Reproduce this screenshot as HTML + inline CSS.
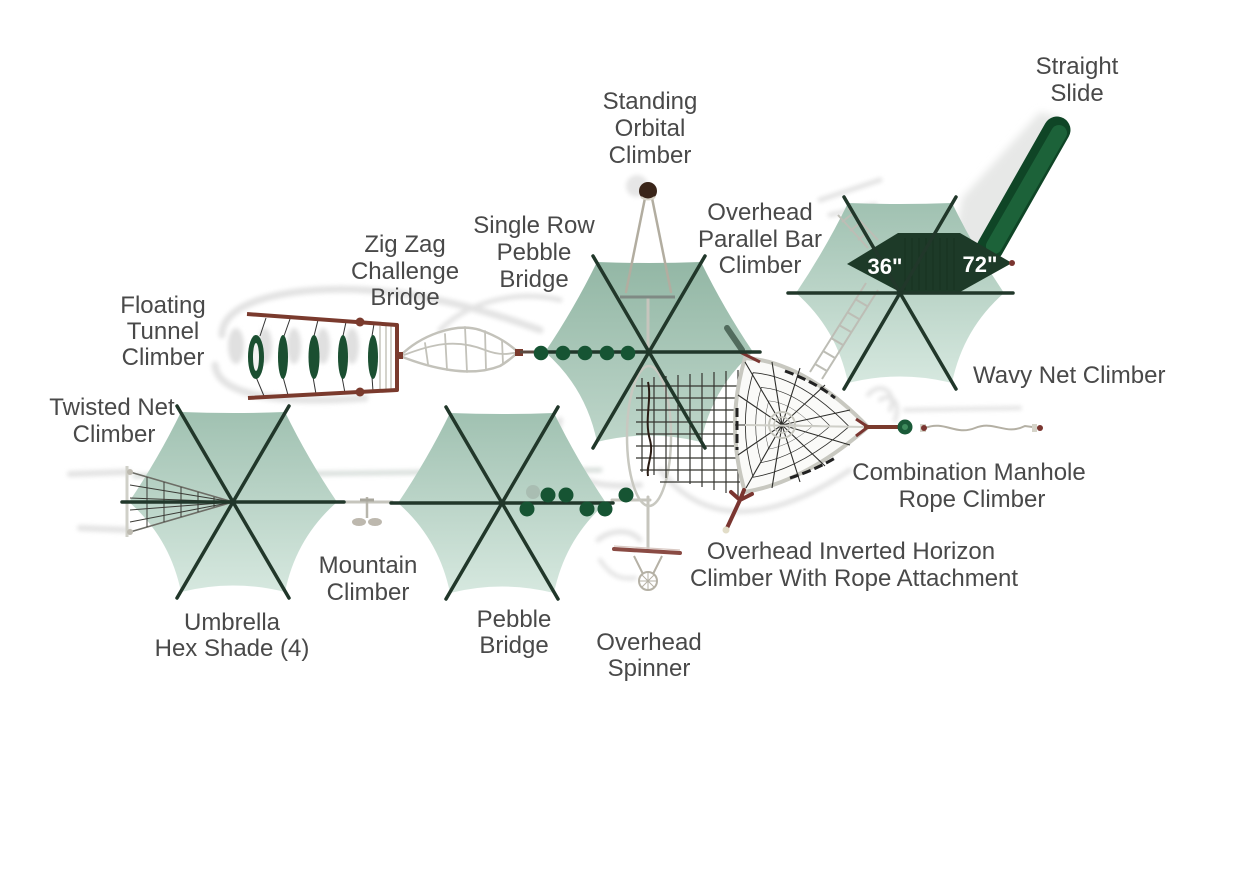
<!DOCTYPE html>
<html><head><meta charset="utf-8"><style>
html,body{margin:0;padding:0;background:#fff;}
svg{display:block;}
text{font-family:"Liberation Sans",Arial,sans-serif;}
</style></head><body>
<svg width="1235" height="872" viewBox="0 0 1235 872" xmlns="http://www.w3.org/2000/svg">
<defs>
<linearGradient id="cg" x1="0" y1="0" x2="0" y2="1">
<stop offset="0" stop-color="#a0c1b1"/><stop offset="1" stop-color="#d6e8df"/>
</linearGradient>
<linearGradient id="cg3" x1="0" y1="0" x2="0" y2="1">
<stop offset="0" stop-color="#93b7a5"/><stop offset="1" stop-color="#bed6ca"/>
</linearGradient>
<filter id="bl" x="-20%" y="-20%" width="140%" height="140%"><feGaussianBlur stdDeviation="2"/></filter>
<filter id="bl4" x="-20%" y="-20%" width="140%" height="140%"><feGaussianBlur stdDeviation="4"/></filter>
</defs>
<rect width="1235" height="872" fill="#fff"/>

<!-- soft shadows -->
<g filter="url(#bl)" fill="none" stroke="#dedede" stroke-linecap="round" opacity="0.85">
<path d="M222,335 C222,298 300,286 365,290 C425,294 480,308 540,330" stroke-width="7"/>
<path d="M215,365 C218,398 290,404 365,398" stroke-width="7"/>
<path d="M70,474 L128,472" stroke-width="6"/>
<path d="M80,528 L128,530" stroke-width="6"/>
<path d="M135,476 L600,470" stroke-width="5" stroke="#d2d9d5"/>
<path d="M560,420 C545,470 580,490 640,485" stroke-width="6"/>
<path d="M598,540 C610,530 630,528 640,540" stroke-width="5"/>
<path d="M600,560 C610,575 620,580 635,578" stroke-width="4"/>
<path d="M660,470 C700,520 760,530 850,470" stroke-width="5"/>
<path d="M868,395 C880,380 898,392 890,410 M880,400 C890,392 902,402 895,420 M905,410 L1020,408" stroke-width="4"/>
<path d="M440,330 C470,300 520,290 560,300" stroke-width="5"/>
<path d="M820,200 L880,180 M830,215 L875,205" stroke-width="5"/>
</g>
<polygon points="952,250 962,198 1040,112 1062,118 995,248" fill="#e7e8e7" filter="url(#bl4)"/>
<circle cx="637" cy="186" r="11" fill="#e6e6e6" filter="url(#bl)"/>

<!-- canopies -->
<g transform="translate(233,502)"><path d="M104,0 Q63,36 52,90 Q0,77 -52,90 Q-63,36 -104,0 Q-75,-43 -52,-90 Q0,-88 52,-90 Q75,-43 104,0 Z" fill="url(#cg)"/></g>
<g transform="translate(502,503)"><path d="M104,0 Q63,36 52,90 Q0,77 -52,90 Q-63,36 -104,0 Q-75,-43 -52,-90 Q0,-88 52,-90 Q75,-43 104,0 Z" fill="url(#cg)"/></g>
<g transform="translate(649,352)"><path d="M104,0 Q63,36 52,90 Q0,77 -52,90 Q-63,36 -104,0 Q-75,-43 -52,-90 Q0,-88 52,-90 Q75,-43 104,0 Z" fill="url(#cg3)"/></g>
<g transform="translate(900,293)"><path d="M104,0 Q63,36 52,90 Q0,77 -52,90 Q-63,36 -104,0 Q-75,-43 -52,-90 Q0,-88 52,-90 Q75,-43 104,0 Z" fill="url(#cg)"/></g>

<!-- gray bars between umbrellas -->
<g stroke="#c6c5bd" stroke-width="3" stroke-linecap="round" fill="none">
<line x1="345" y1="502" x2="392" y2="502"/>
<line x1="612" y1="500" x2="650" y2="500"/>
<line x1="648" y1="297" x2="648" y2="352"/>
<line x1="648" y1="497" x2="648" y2="551"/>
</g>

<!-- Twisted net climber -->
<g fill="none">
<line x1="127" y1="466" x2="127" y2="537" stroke="#d0d0c8" stroke-width="3"/>
<path d="M130,472 L233,502 L130,532" stroke="#6d6d66" stroke-width="1.6"/>
<g stroke="#3b3b36" stroke-width="1">
<line x1="147" y1="477" x2="147" y2="527"/><line x1="164" y1="482" x2="164" y2="522"/>
<line x1="181" y1="487" x2="181" y2="517"/><line x1="198" y1="492" x2="198" y2="512"/>
<line x1="214" y1="497" x2="214" y2="507"/>
<path d="M130,485 L233,502 M130,498 L233,502 M130,510 L233,502 M130,522 L233,502"/>
</g>
<circle cx="130" cy="472" r="3" fill="#bdbab0"/><circle cx="130" cy="532" r="3" fill="#bdbab0"/>
</g>

<!-- Floating tunnel climber -->
<g fill="#e0e0e0" filter="url(#bl)">
<ellipse cx="236" cy="346" rx="8" ry="18"/><ellipse cx="265" cy="346" rx="7" ry="18"/>
<ellipse cx="294" cy="346" rx="7" ry="18"/><ellipse cx="323" cy="346" rx="7" ry="18"/>
<ellipse cx="352" cy="346" rx="7" ry="18"/>
</g>
<g stroke="#c9c8c0" stroke-width="1.6">
<line x1="380" y1="326" x2="380" y2="389"/><line x1="386" y1="326" x2="386" y2="389"/><line x1="391" y1="326" x2="391" y2="389"/>
</g>
<g stroke="#333" stroke-width="1">
<line x1="260" y1="336" x2="266" y2="318"/><line x1="284" y1="336" x2="290" y2="319"/><line x1="314" y1="336" x2="318" y2="320"/><line x1="343" y1="336" x2="346" y2="322"/><line x1="372" y1="336" x2="374" y2="324"/>
<line x1="256" y1="377" x2="264" y2="396"/><line x1="283" y1="377" x2="288" y2="395"/><line x1="313" y1="377" x2="316" y2="394"/><line x1="342" y1="377" x2="345" y2="393"/><line x1="372" y1="377" x2="373" y2="391"/>
</g>
<path d="M247,314 L397,325 L397,390 L248,398" fill="none" stroke="#7a3a2d" stroke-width="4" stroke-linejoin="round"/>
<circle cx="360" cy="322" r="4.5" fill="#7a3a2d"/><circle cx="360" cy="392" r="4.5" fill="#7a3a2d"/>
<g fill="#1b4f31">
<ellipse cx="256" cy="357" rx="8" ry="22"/>
<ellipse cx="283" cy="357" rx="5" ry="22"/>
<ellipse cx="314" cy="357" rx="5.5" ry="22"/>
<ellipse cx="343" cy="357" rx="5" ry="22"/>
<ellipse cx="373" cy="357" rx="5" ry="22"/>
</g>
<ellipse cx="256" cy="357" rx="3" ry="14" fill="#f2f2f2"/>

<!-- Zig Zag challenge bridge -->
<g fill="none" stroke="#c3c2ba" stroke-width="2.5" stroke-linecap="round">
<path d="M400,356 C420,336 455,322 480,330 C500,337 510,345 518,352"/>
<path d="M400,356 C430,368 470,378 500,366 C510,360 515,355 518,352"/>
<path d="M404,355 C430,345 455,338 485,350 C500,356 510,354 518,352" stroke-width="1.8"/>
<path d="M425,343 L428,364 M445,334 L447,370 M465,327 L467,372 M485,331 L486,370 M502,340 L503,364" stroke-width="1.8"/>
</g>
<rect x="395" y="352" width="8" height="7" fill="#7a3a2d"/>
<rect x="515" y="349" width="8" height="7" fill="#7a3a2d"/>

<!-- Standing orbital climber -->
<g stroke="#b2ada0" stroke-width="2.5" fill="none" stroke-linecap="round">
<line x1="645" y1="198" x2="626" y2="292"/><line x1="652" y1="198" x2="671" y2="292"/>
</g>
<line x1="620" y1="297" x2="675" y2="297" stroke="#7f8a84" stroke-width="3"/>
<circle cx="648" cy="191" r="9" fill="#3a2519"/>
<path d="M641,197 Q648,202 655,197" stroke="#d8d4c8" stroke-width="2" fill="none"/>

<!-- parallel bar climber / ladders near umbrella 4 -->
<g stroke="#bdbdb5" stroke-width="2" fill="none">
<path d="M810,372 L866,283 M822,379 L878,290"/>
<path d="M815,364 L827,371 M823,351 L835,358 M831,338 L843,345 M839,325 L851,332 M847,312 L859,319 M855,299 L867,306"/>
<path d="M838,215 L868,248 M848,208 L878,240 M842,222 L852,214 M850,231 L860,223 M858,240 L868,232"/>
</g>

<!-- center net grid -->
<ellipse cx="649" cy="436" rx="22" ry="70" fill="none" stroke="#c8c8c0" stroke-width="2.5"/>
<g stroke="#34342f" stroke-width="1.2" fill="none">
<path d="M642,378 V472 M654,377 V475 M666,376 V478 M678,375 V481 M690,374 V484 M702,373 V487 M714,372 V490 M726,371 V493 M738,370 V496"/>
<path d="M636,386 H740 M636,398 H740 M636,410 H740 M636,422 H740 M636,434 H740 M636,446 H740 M636,458 H740 M640,470 H740 M660,482 H740"/>
</g>
<path d="M648,382 C652,400 644,420 650,440 C654,455 646,465 648,476" stroke="#2a1c14" stroke-width="2" fill="none"/>

<!-- wavy net climber triangle -->
<path d="M745,358 Q805,362 868,427 Q805,482 745,492 Q725,425 745,358 Z" fill="#fafaf8" stroke="#c8c8c0" stroke-width="4"/>
<g fill="none" stroke="#2d2d2a" stroke-width="1.1">
<path d="M745,358 Q805,362 868,427 Q805,482 745,492 Q725,425 745,358 Z" transform="translate(782,425) scale(0.78) translate(-782,-425)"/>
<path d="M745,358 Q805,362 868,427 Q805,482 745,492 Q725,425 745,358 Z" transform="translate(782,425) scale(0.56) translate(-782,-425)"/>
<path d="M745,358 Q805,362 868,427 Q805,482 745,492 Q725,425 745,358 Z" transform="translate(782,425) scale(0.36) translate(-782,-425)"/>
<path d="M782,425 L745,362 M782,425 L772,362 M782,425 L800,368 M782,425 L825,385 M782,425 L850,410 M782,425 L862,427 M782,425 L850,445 M782,425 L825,466 M782,425 L800,482 M782,425 L772,488 M782,425 L746,488 M782,425 L738,455 M782,425 L735,425 M782,425 L738,395"/>
</g>
<circle cx="782" cy="425" r="13" fill="none" stroke="#c6c6be" stroke-width="2"/>
<circle cx="782" cy="425" r="8" fill="none" stroke="#c6c6be" stroke-width="1.5"/>
<line x1="745" y1="425" x2="866" y2="427" stroke="#cfcfc8" stroke-width="2"/>
<g stroke="#222" stroke-width="3" stroke-dasharray="9 4" fill="none">
<path d="M785,371 Q815,382 835,398"/><path d="M790,478 Q815,470 835,458"/><path d="M737,408 L737,450"/>
</g>
<path d="M744,490 L740,500 L727,528 M740,500 L731,492 M740,500 L752,494" fill="none" stroke="#7a3530" stroke-width="4" stroke-linecap="round"/>
<circle cx="726" cy="530" r="3.5" fill="#e2ddc8"/>
<path d="M740,352 L760,362" stroke="#7a3530" stroke-width="3"/>
<path d="M856,419 L868,427 L856,436" stroke="#7a3530" stroke-width="3" fill="none"/>
<line x1="727" y1="328" x2="742" y2="350" stroke="#516b5d" stroke-width="6" stroke-linecap="round"/>

<!-- combination manhole rope climber -->
<line x1="864" y1="427" x2="899" y2="427" stroke="#7a3a2d" stroke-width="4"/>
<circle cx="905" cy="427" r="7.5" fill="#1a5a38"/><circle cx="905" cy="427" r="3" fill="#3f8b5d"/>
<path d="M925,428 C945,420 955,436 975,428 C995,420 1005,436 1025,426 L1040,428" fill="none" stroke="#b4b0a4" stroke-width="2"/>
<rect x="920" y="424" width="6" height="8" fill="#d5d3c8"/>
<circle cx="924" cy="428" r="3" fill="#7a3530"/><circle cx="1040" cy="428" r="3" fill="#7a3530"/>
<rect x="1032" y="424" width="5" height="8" fill="#d5d3c8"/>

<!-- mountain climber -->
<line x1="367" y1="497" x2="367" y2="518" stroke="#b8b6ac" stroke-width="2.5"/>
<line x1="360" y1="500" x2="374" y2="500" stroke="#a8a69c" stroke-width="3"/>
<ellipse cx="359" cy="522" rx="7" ry="4" fill="#bdb8ae"/><ellipse cx="375" cy="522" rx="7" ry="4" fill="#bdb8ae"/>

<!-- spinner -->
<path d="M614,549 L680,553" stroke="#8a4b44" stroke-width="4" stroke-linecap="round"/>
<path d="M614,546 L680,550" stroke="#d9c9c3" stroke-width="1.2"/>
<g stroke="#b5b1a5" stroke-width="2" fill="none">
<path d="M634,556 L643,574 M662,556 L653,574"/>
<circle cx="648" cy="581" r="9"/>
<path d="M648,572 V590 M639,581 H657 M642,575 L654,587 M654,575 L642,587" stroke-width="1"/>
</g>

<!-- umbrella 4 platform & slide -->
<path d="M990,248 L1057,130" stroke="#0f4526" stroke-width="27" stroke-linecap="round"/>
<path d="M994,246 L1059,133" stroke="#1c6239" stroke-width="16" stroke-linecap="round"/>
<polygon points="847,264 898,233 960,233 1012,263 960,292 900,292" fill="#1d3a28"/>
<g stroke="#15301f" stroke-width="1" opacity="0.7">
<path d="M905,238 V290 M912,238 V290 M919,238 V290 M926,238 V290 M933,238 V290 M940,238 V290 M947,238 V290 M954,238 V290"/>
</g>
<circle cx="1012" cy="263" r="3" fill="#7a3530"/>

<!-- arms -->
<g stroke="#21372a" stroke-width="3.5" stroke-linecap="round">
<g transform="translate(233,502)"><line x1="-56" y1="-96" x2="56" y2="96"/><line x1="56" y1="-96" x2="-56" y2="96"/><line x1="-111" y1="0" x2="111" y2="0"/></g>
<g transform="translate(502,503)"><line x1="-56" y1="-96" x2="56" y2="96"/><line x1="56" y1="-96" x2="-56" y2="96"/><line x1="-111" y1="0" x2="111" y2="0"/></g>
<g transform="translate(649,352)"><line x1="-56" y1="-96" x2="56" y2="96"/><line x1="56" y1="-96" x2="-56" y2="96"/><line x1="-113" y1="0" x2="111" y2="0"/></g>
<g transform="translate(900,293)"><line x1="-56" y1="-96" x2="56" y2="96"/><line x1="56" y1="-96" x2="-56" y2="96"/><line x1="-112" y1="0" x2="113" y2="0"/></g>
</g>
<line x1="520" y1="352" x2="538" y2="352" stroke="#5a4a40" stroke-width="3"/>

<!-- pebbles -->
<g fill="#165433">
<circle cx="541" cy="353" r="7.3"/><circle cx="563" cy="353" r="7.3"/><circle cx="585" cy="353" r="7.3"/><circle cx="607" cy="353" r="7.3"/><circle cx="628" cy="353" r="7.3"/>
</g>
<circle cx="533" cy="492" r="7" fill="#a9bdb2"/>
<g fill="#165433">
<circle cx="548" cy="495" r="7.5"/><circle cx="566" cy="495" r="7.5"/><circle cx="626" cy="495" r="7.5"/>
<circle cx="527" cy="509" r="7.5"/><circle cx="587" cy="509" r="7.5"/><circle cx="605" cy="509" r="7.5"/>
</g>

<!-- platform labels -->
<g font-family="Liberation Sans, Arial, sans-serif" font-weight="bold" font-size="22" fill="#ffffff" text-anchor="middle">
<text x="885" y="274">36"</text>
<text x="980" y="272">72"</text>
</g>

<!-- labels -->
<g font-size="24" fill="#494949" text-anchor="middle">
<text x="1077" y="74">Straight</text><text x="1077" y="101">Slide</text>
<text x="650" y="109">Standing</text><text x="650" y="136">Orbital</text><text x="650" y="163">Climber</text>
<text x="760" y="220">Overhead</text><text x="760" y="247">Parallel Bar</text><text x="760" y="273">Climber</text>
<text x="534" y="233">Single Row</text><text x="534" y="260">Pebble</text><text x="534" y="287">Bridge</text>
<text x="405" y="252">Zig Zag</text><text x="405" y="279">Challenge</text><text x="405" y="305">Bridge</text>
<text x="163" y="313">Floating</text><text x="163" y="339">Tunnel</text><text x="163" y="365">Climber</text>
<text x="973" y="383" text-anchor="start">Wavy Net Climber</text>
<text x="112" y="415">Twisted Net</text><text x="114" y="442">Climber</text>
<text x="969" y="480">Combination Manhole</text><text x="972" y="507">Rope Climber</text>
<text x="368" y="573">Mountain</text><text x="368" y="600">Climber</text>
<text x="851" y="559">Overhead Inverted Horizon</text><text x="854" y="586">Climber With Rope Attachment</text>
<text x="232" y="630">Umbrella</text><text x="232" y="656">Hex Shade (4)</text>
<text x="514" y="627">Pebble</text><text x="514" y="653">Bridge</text>
<text x="649" y="650">Overhead</text><text x="649" y="676">Spinner</text>
</g>
</svg>
</body></html>
